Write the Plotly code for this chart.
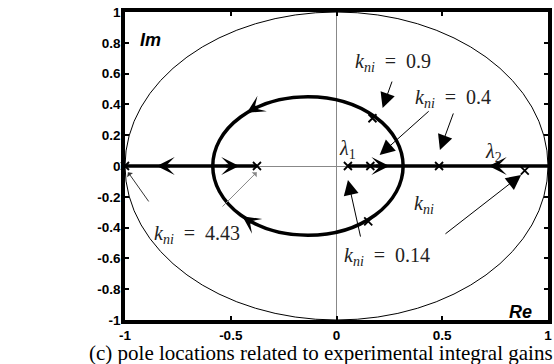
import plotly.graph_objects as go

# Pole positions (real, imaginary) for the experimental integral gains
pole_re = [-1.0, -0.376, 0.054, 0.16, 0.17, 0.15, 0.485, 0.89]
pole_im = [0.0, 0.0, 0.0, 0.0, 0.31, -0.36, 0.0, -0.03]

# Real-axis locus branches (thick)
branch_left = [-1.0, -0.376]
branch_right = [0.054, 1.0]

# Circular locus branch: centre and radius
loop_centre = (-0.135, 0.0)
loop_radius = 0.45

# Direction arrows on the locus: tip (re, im) and direction (dre, dim)
dir_tip_re = [-0.85, -0.46, 0.25, 0.72, -0.424, -0.445]
dir_tip_im = [0.0, 0.0, 0.0, 0.0, 0.345, -0.326]
dir_dre = [-1.0, 1.0, 1.0, -1.0, -0.766, -0.724]
dir_dim = [0.0, 0.0, 0.0, 0.0, -0.643, 0.69]

# Label texts and positions
EQ = "&nbsp;&nbsp;=&nbsp;&nbsp;"
KNI = "<i>k</i><sub><i>ni</i></sub>"
label_text = [KNI + EQ + "0.9", KNI + EQ + "0.4",
              "<i>λ</i><sub>1</sub>", "<i>λ</i><sub>2</sub>", KNI,
              KNI + EQ + "0.14", KNI + EQ + "4.43"]
label_re = [0.265, 0.55, 0.054, 0.742, 0.415, 0.24, -0.658]
label_im = [0.67, 0.44, 0.11, 0.09, -0.25, -0.59, -0.448]

# Pointer arrows: tail (re, im) -> tip (re, im)
ptr_tail_re = [0.265, 0.443, 0.555, 0.115, 0.508]
ptr_tail_im = [0.558, 0.364, 0.351, -0.468, -0.448]
ptr_tip_re = [0.218, 0.204, 0.489, 0.054, 0.873]
ptr_tip_im = [0.377, 0.071, 0.104, -0.091, -0.058]

# Small pointers near the left end
small_tail_re = [-0.883, -0.546]
small_tail_im = [-0.24, -0.273]
small_tip_re = [-0.986, -0.377]
small_tip_im = [-0.04, -0.04]
small_color = ["#333333", "#888888"]

x_ticks = [-1, -0.5, 0, 0.5, 1]
y_ticks = [-1, -0.8, -0.6, -0.4, -0.2, 0, 0.2, 0.4, 0.6, 0.8, 1]

fig = go.Figure()

# Unit circle and the circular locus branch
cx, cy = loop_centre
fig.add_shape(type="circle", xref="x", yref="y", x0=-1, y0=-1, x1=1, y1=1,
              line=dict(color="black", width=1))
fig.add_shape(type="circle", xref="x", yref="y",
              x0=cx - loop_radius, x1=cx + loop_radius,
              y0=cy - loop_radius, y1=cy + loop_radius,
              line=dict(color="black", width=3.5))

for seg in (branch_left, branch_right):
    fig.add_trace(go.Scatter(x=seg, y=[0, 0], mode="lines",
                             line=dict(color="black", width=3.5),
                             showlegend=False, hoverinfo="skip"))

fig.add_trace(go.Scatter(x=pole_re, y=pole_im, mode="markers", cliponaxis=False,
                         marker=dict(symbol="x-thin", size=8, color="black",
                                     line=dict(color="black", width=1.8)),
                         showlegend=False, hoverinfo="skip"))

annotations = []
step = 0.07
for tx, ty, dx, dy in zip(dir_tip_re, dir_tip_im, dir_dre, dir_dim):
    annotations.append(dict(x=tx, y=ty, ax=tx - step * dx, ay=ty - step * dy,
                            xref="x", yref="y", axref="x", ayref="y", text="",
                            showarrow=True, arrowhead=3, arrowsize=1.0,
                            arrowwidth=3, arrowcolor="black", standoff=0))

for t, x, y in zip(label_text, label_re, label_im):
    annotations.append(dict(x=x, y=y, xref="x", yref="y", text=t, showarrow=False,
                            font=dict(family="Liberation Serif", size=20, color="#222")))

for axx, ayy, tx, ty in zip(ptr_tail_re, ptr_tail_im, ptr_tip_re, ptr_tip_im):
    annotations.append(dict(x=tx, y=ty, ax=axx, ay=ayy, xref="x", yref="y",
                            axref="x", ayref="y", text="", showarrow=True,
                            arrowhead=2, arrowsize=3, arrowwidth=1,
                            arrowcolor="black", standoff=0))

for axx, ayy, tx, ty, c in zip(small_tail_re, small_tail_im, small_tip_re, small_tip_im, small_color):
    annotations.append(dict(x=tx, y=ty, ax=axx, ay=ayy, xref="x", yref="y",
                            axref="x", ayref="y", text="", showarrow=True,
                            arrowhead=1, arrowsize=1.2, arrowwidth=1,
                            arrowcolor=c, standoff=0))

annotations.append(dict(x=-0.88, y=0.82, xref="x", yref="y", text="<b><i>Im</i></b>",
                        showarrow=False, font=dict(family="Liberation Sans", size=18, color="black")))
annotations.append(dict(x=0.87, y=-0.95, xref="x", yref="y", text="<b><i>Re</i></b>",
                        showarrow=False, font=dict(family="Liberation Sans", size=18, color="black")))
annotations.append(dict(x=-0.089, y=-0.106, xref="paper", yref="paper", xanchor="left",
                        yanchor="middle",
                        text="(c) pole locations related to experimental integral gains",
                        showarrow=False, font=dict(family="Liberation Serif", size=21, color="black")))

axis_common = dict(range=[-1, 1], showgrid=False, zeroline=True, zerolinecolor="#888888",
                   zerolinewidth=1, showline=True, linecolor="black", linewidth=3.5,
                   mirror="allticks", ticks="inside", ticklen=4, tickwidth=1.5,
                   tickcolor="black",
                   tickfont=dict(family="Liberation Sans", size=13.5, color="black", weight="bold"))

fig.update_layout(
    width=554, height=364,
    margin=dict(l=125, r=2, t=12, b=44),
    paper_bgcolor="white", plot_bgcolor="white",
    xaxis=dict(tickvals=x_ticks, ticktext=["-1", "-0.5", "0", "0.5", "1"], **axis_common),
    yaxis=dict(tickvals=y_ticks, ticktext=[f"{v:g}" for v in y_ticks],
               ticklabelstandoff=-2, **axis_common),
    annotations=annotations,
)

fig.write_html("out.html")
